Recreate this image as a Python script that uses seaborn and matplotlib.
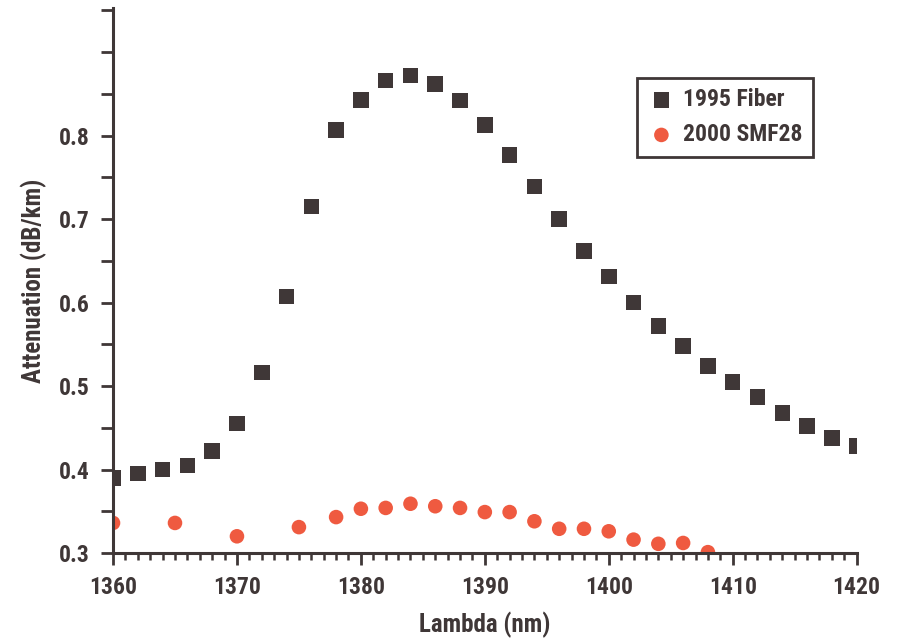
import numpy as np
import pandas as pd
import seaborn as sb
import matplotlib.pyplot as plt
from matplotlib import font_manager
from matplotlib.ticker import MultipleLocator

# data
fiber_x = [1360, 1362, 1364, 1366, 1368, 1370, 1372, 1374, 1376, 1378, 1380, 1382, 1384, 1386, 1388,
           1390, 1392, 1394, 1396, 1398, 1400, 1402, 1404, 1406, 1408, 1410, 1412, 1414, 1416, 1418, 1420]
fiber_y = [0.390, 0.395, 0.400, 0.405, 0.422, 0.455, 0.516, 0.607, 0.715, 0.807, 0.843, 0.866, 0.872, 0.862, 0.842,
           0.813, 0.777, 0.739, 0.700, 0.662, 0.631, 0.600, 0.572, 0.548, 0.524, 0.505, 0.487, 0.468, 0.452, 0.438, 0.428]
smf_x = [1360, 1365, 1370, 1375, 1378, 1380, 1382, 1384, 1386, 1388, 1390, 1392, 1394, 1396, 1398, 1400,
         1402, 1404, 1406, 1408]
smf_y = [0.336, 0.336, 0.320, 0.331, 0.343, 0.353, 0.354, 0.359, 0.356, 0.354, 0.349, 0.349, 0.338, 0.329, 0.329, 0.326,
         0.316, 0.311, 0.312, 0.301]
labels = ['1995 Fiber', '2000 SMF28']
y_ticks = [0.3, 0.35, 0.4, 0.45, 0.5, 0.55, 0.6, 0.65, 0.7, 0.75, 0.8, 0.85, 0.9, 0.95]
y_ticklabels = ['0.3', '', '0.4', '', '0.5', '', '0.6', '', '0.7', '', '0.8', '', '', '']

DARK = '#3f3737'
RED = '#ef5a40'

sb.set_style('white')

# pick a narrow bold face if one is installed
installed = {f.name for f in font_manager.fontManager.ttflist}
face = 'Lato'
for cand in ['Liberation Sans Narrow', 'Roboto Condensed', 'DejaVu Sans Condensed', 'Open Sans Condensed']:
    if cand in installed:
        face = cand
        break
plt.rcParams['font.family'] = [face, 'DejaVu Sans']
plt.rcParams['font.weight'] = 'bold'
FS = 17 if face != 'Lato' else 16

df_f = pd.DataFrame({'x': fiber_x, 'y': fiber_y})
df_s = pd.DataFrame({'x': smf_x, 'y': smf_y})

fig = plt.figure(figsize=(8.97, 6.39), dpi=100)
ax = fig.add_axes([0.126, 0.1346, 0.829, 0.853])
sb.scatterplot(data=df_f, x='x', y='y', marker='s', s=125, color=DARK, edgecolor='none', label=labels[0], ax=ax)
sb.scatterplot(data=df_s, x='x', y='y', marker='o', s=110, color=RED, edgecolor='none', label=labels[1], ax=ax)

ax.set_xlim(1360, 1420)
ax.set_ylim(0.3, 0.953)
ax.set_xticks([1360, 1370, 1380, 1390, 1400, 1410, 1420])
ax.xaxis.set_minor_locator(MultipleLocator(1))
ax.set_yticks(y_ticks)
ax.set_yticklabels(y_ticklabels)

for s in ['top', 'right']:
    ax.spines[s].set_visible(False)
for s in ['left', 'bottom']:
    ax.spines[s].set_color(DARK)
    ax.spines[s].set_linewidth(2.2)

ax.tick_params(axis='both', which='major', direction='out', length=8.5, width=2, color=DARK,
               labelcolor=DARK, labelsize=FS, pad=8)
ax.tick_params(axis='x', which='minor', direction='out', length=5, width=1.8, color=DARK, bottom=True)
ax.tick_params(axis='x', which='major', bottom=True)
ax.tick_params(axis='y', which='major', left=True)

ax.set_xlabel('Lambda (nm)', fontsize=FS + 1, fontweight='bold', color=DARK, labelpad=9)
ax.set_ylabel('Attenuation (dB/km)', fontsize=FS + 1, fontweight='bold', color=DARK, labelpad=9)

leg = ax.legend(loc='upper right', bbox_to_anchor=(0.941, 0.872), borderaxespad=0, frameon=True,
                fancybox=False, framealpha=1, fontsize=FS, handletextpad=0.3, borderpad=0.45,
                labelspacing=0.5, handlelength=1.2)
leg.get_frame().set_edgecolor(DARK)
leg.get_frame().set_linewidth(2)
for t in leg.get_texts():
    t.set_color(DARK)

plt.savefig('out.png', dpi=100)
plt.close()
